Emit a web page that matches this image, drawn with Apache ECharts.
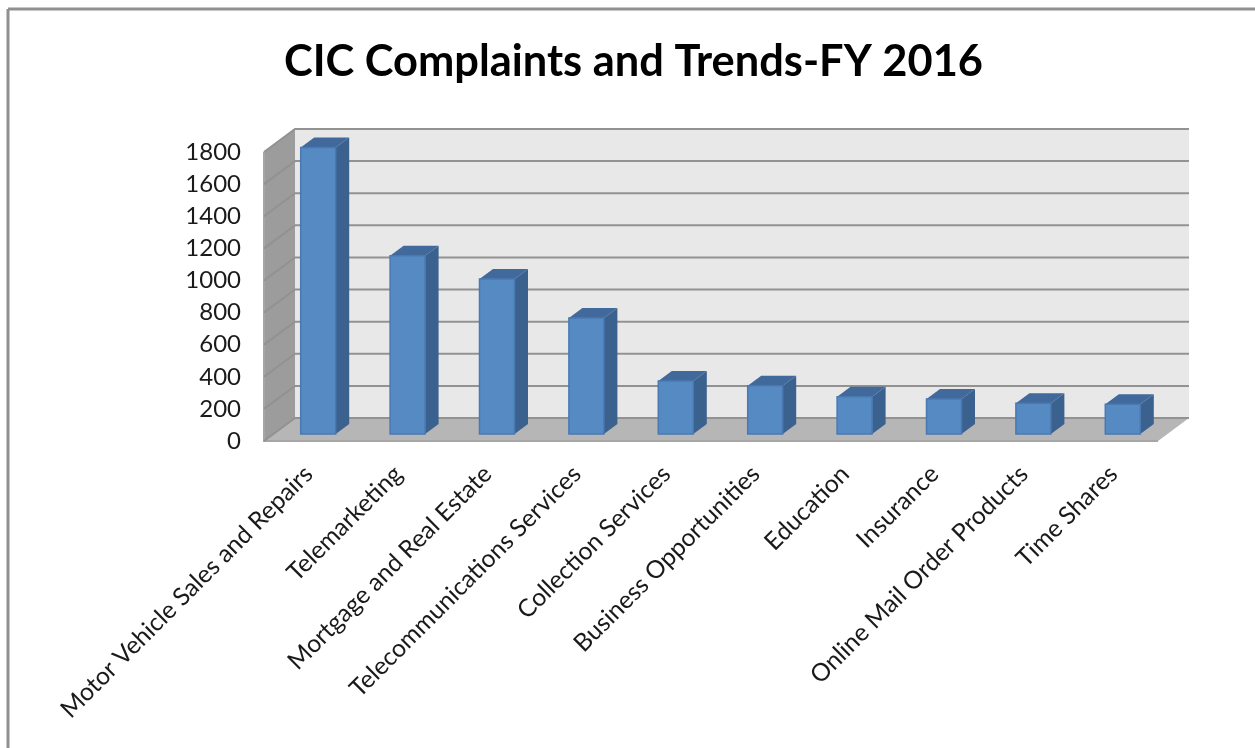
<!DOCTYPE html>
<html>
<head>
<meta charset="utf-8">
<title>CIC Complaints and Trends-FY 2016</title>
<script src="https://cdn.jsdelivr.net/npm/echarts@6/dist/echarts.min.js"></script>
<style>
  html, body { margin: 0; padding: 0; background: #fff; }
  #chart { width: 1255px; height: 748px; }
</style>
</head>
<body>
<div id="chart"></div>
<script>
var categories = ['Motor Vehicle Sales and Repairs', 'Telemarketing', 'Mortgage and Real Estate',
    'Telecommunications Services', 'Collection Services', 'Business Opportunities',
    'Education', 'Insurance', 'Online Mail Order Products', 'Time Shares'];
var complaints = [1785, 1110, 965, 722, 330, 300, 232, 218, 192, 186];
var yTicks = [0, 200, 400, 600, 800, 1000, 1200, 1400, 1600, 1800];

// fake 3d: how far the back wall and the bars are pushed up and right
var wallDx = 31, wallDy = 23;
var barDx = 9.5, barDy = 7;
var sideDx = 13.5, sideDy = 10;
var barWidth = 35;

var chart = echarts.init(document.getElementById('chart'));

function poly(points, fill) {
    return { type: 'polygon', shape: { points: points }, style: { fill: fill } };
}

// walls and floor, one item only
function renderWalls(params, api) {
    var r = params.coordSys;
    var left = r.x, right = r.x + r.width, top = r.y, bottom = r.y + r.height;
    return {
        type: 'group',
        children: [
            poly([[left + wallDx, top - wallDy], [right + wallDx, top - wallDy],
                  [right + wallDx, bottom - wallDy], [left + wallDx, bottom - wallDy]], '#e8e8e8'),
            poly([[left, top], [left + wallDx, top - wallDy],
                  [left + wallDx, bottom - wallDy], [left, bottom]], '#9c9c9c'),
            poly([[left, bottom], [left + wallDx, bottom - wallDy],
                  [right + wallDx, bottom - wallDy], [right, bottom]], '#b6b6b6'),
            // lighter edges at the front of the wall and floor
            { type: 'polyline', shape: { points: [[left, top], [left, bottom], [right, bottom]] },
              style: { fill: null, stroke: '#a6a6a6', lineWidth: 2 } }
        ]
    };
}

// a gridline bends around the left wall
function renderGridline(params, api) {
    var r = params.coordSys;
    var y = api.coord([0, api.value(1)])[1];
    return {
        type: 'polyline',
        shape: { points: [[r.x, y], [r.x + wallDx, y - wallDy], [r.x + r.width + wallDx, y - wallDy]] },
        style: { fill: null, stroke: '#929292', lineWidth: 2 }
    };
}

function renderBar(params, api) {
    var top = api.coord([api.value(0), api.value(1)]);
    var base = api.coord([api.value(0), 0]);
    var x0 = top[0] + barDx - barWidth / 2, x1 = x0 + barWidth;
    var y0 = top[1] - barDy, y1 = base[1] - barDy;
    return {
        type: 'group',
        children: [
            poly([[x1, y0], [x1 + sideDx, y0 - sideDy], [x1 + sideDx, y1 - sideDy], [x1, y1]], '#3b618f'),
            poly([[x0, y0], [x0 + sideDx, y0 - sideDy], [x1 + sideDx, y0 - sideDy], [x1, y0]], '#41699b'),
            {
                type: 'rect',
                shape: { x: x0, y: y0, width: barWidth, height: y1 - y0 },
                style: { fill: '#568ac2', stroke: '#4a79b2', lineWidth: 1.5 }
            }
        ]
    };
}

var option = {
    animation: false,
    backgroundColor: '#fff',
    title: {
        text: 'CIC Complaints and Trends-FY 2016',
        left: 279,
        top: 35,
        textStyle: { fontFamily: 'Lato', fontSize: 43.4, fontWeight: 'bold', color: '#000' }
    },
    grid: { left: 264, right: 97, top: 152, bottom: 307 },
    xAxis: {
        type: 'category',
        data: categories,
        axisLine: { show: false },
        axisTick: { show: false },
        axisLabel: { interval: 0, rotate: 45, margin: 29, fontFamily: 'Lato', fontSize: 24.6, color: '#1a1a1a' }
    },
    yAxis: {
        type: 'value',
        min: 0,
        max: 1800,
        interval: 200,
        axisLine: { show: false },
        axisTick: { show: false },
        splitLine: { show: false },
        axisLabel: {
            margin: 23, fontFamily: 'Lato', fontSize: 24, color: '#1a1a1a', padding: [4, 0, 0, 0],
            formatter: function (v) { return String(v); }
        }
    },
    // sheet edge, cut off by the screenshot on the right and at the bottom
    graphic: [
        { type: 'line', shape: { x1: 8, y1: 9, x2: 1255, y2: 9 }, style: { stroke: '#909090', lineWidth: 3 } },
        { type: 'line', shape: { x1: 8, y1: 9, x2: 8, y2: 748 }, style: { stroke: '#909090', lineWidth: 3 } }
    ],
    series: [
        { type: 'custom', name: 'walls', renderItem: renderWalls, data: [[0, 0]], clip: false, silent: true, z: 1 },
        { type: 'custom', name: 'gridlines', renderItem: renderGridline,
          data: yTicks.map(function (t) { return [0, t]; }), clip: false, silent: true, z: 2 },
        { type: 'custom', name: 'Complaints', renderItem: renderBar,
          data: complaints.map(function (v, i) { return [i, v]; }), clip: false, z: 3 }
    ]
};
chart.setOption(option);
window.addEventListener('resize', chart.resize);
</script>
</body>
</html>
